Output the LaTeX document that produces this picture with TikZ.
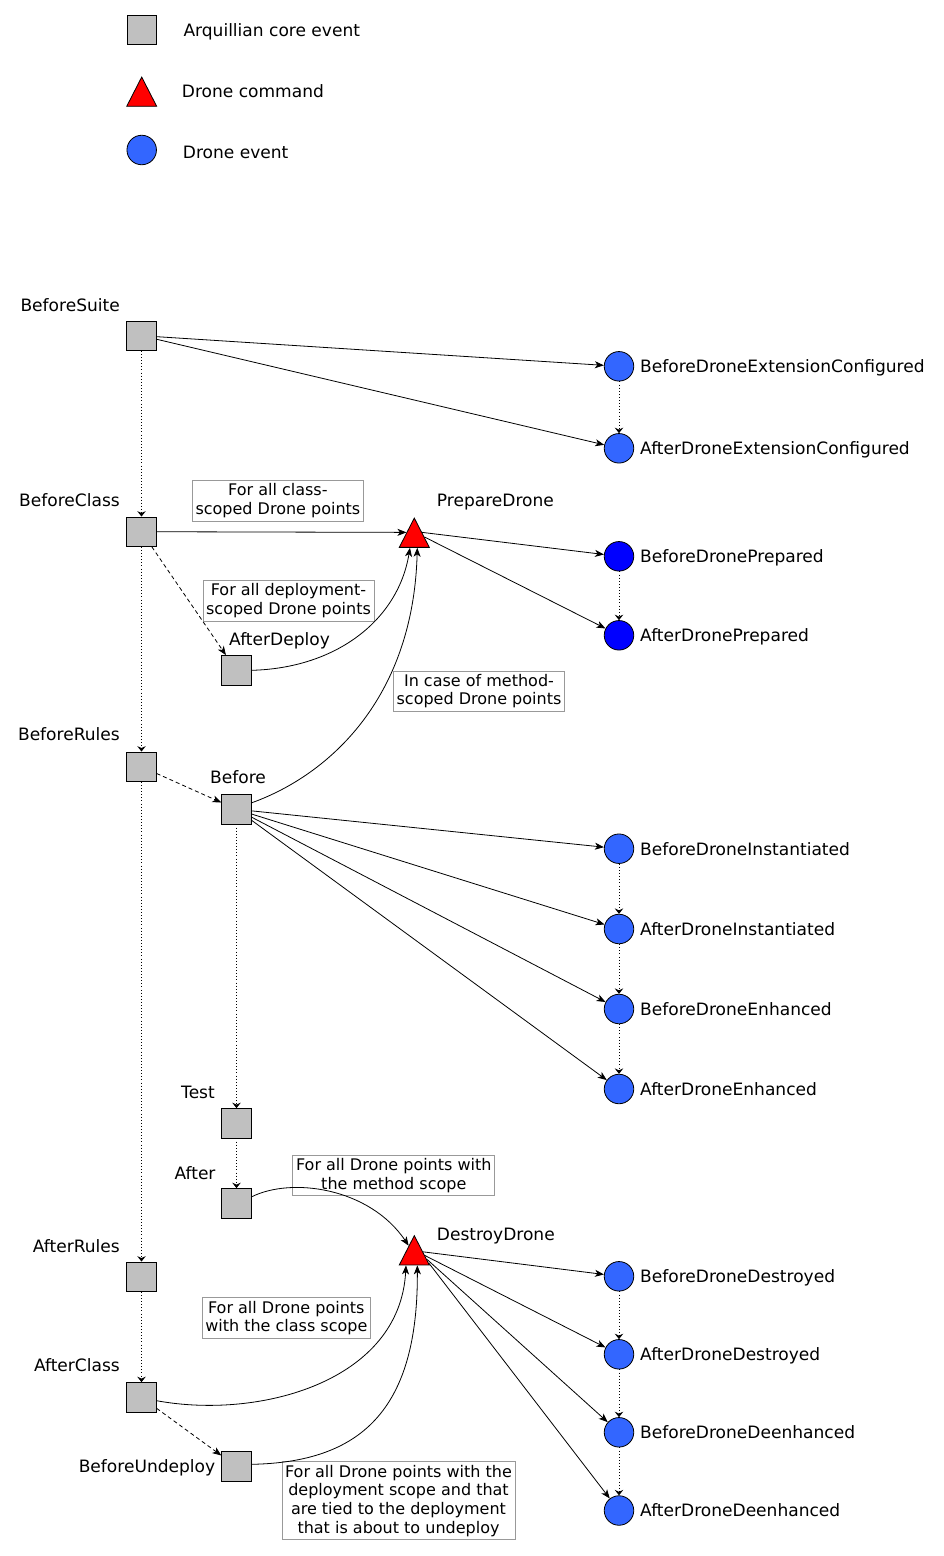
\documentclass[tikz,border=0pt]{standalone}
\usepackage{fontspec}
\setmainfont{DejaVu Sans}
\usetikzlibrary{shapes.geometric,arrows.meta,calc}
\definecolor{coregray}{HTML}{C0C0C0}
\definecolor{evblue}{HTML}{3366FF}
\definecolor{prepblue}{HTML}{0000FF}
\definecolor{notegray}{HTML}{999999}
\newcommand{\lblfont}{\fontsize{17.05}{20}\selectfont}
\newcommand{\notefont}{\fontsize{16}{18.7}\selectfont}
\begin{document}
\begin{tikzpicture}[x=1pt,y=-1pt,
  core/.style={rectangle,draw,line width=0.8pt,fill=coregray,minimum size=29.5pt,inner sep=0pt},
  ev/.style={circle,draw,line width=0.8pt,fill=evblue,minimum size=29.5pt,inner sep=0pt},
  evp/.style={ev,fill=prepblue},
  cmd/.style={isosceles triangle,isosceles triangle stretches,shape border rotate=90,
    minimum width=30pt,minimum height=29.3pt,inner sep=0pt,draw,line width=0.8pt,fill=red},
  lbl/.style={inner sep=0pt,font=\lblfont},
  note/.style={draw=notegray,line width=0.8pt,inner sep=3.2pt,align=center,font=\notefont},
  arr/.style={line width=0.8pt,-{Stealth[length=9pt,width=7pt,inset=2.5pt]}},
  dotarr/.style={line width=0.8pt,dash pattern=on 0.9pt off 2.2pt,-{Stealth[length=5.5pt,width=8.5pt,inset=2pt]}},
  dasharr/.style={line width=0.8pt,dash pattern=on 4pt off 3pt,-{Stealth[length=9pt,width=7pt,inset=2.5pt]}}
]
\fill[white] (0,0) rectangle (943,1556);
\useasboundingbox (0,0) rectangle (943,1556);

% legend
\node[core] (lsq) at (141.7,30) {};
\node[lbl,anchor=base west] (lsqt) at (183.3,36) {Arquillian core event};
\node[cmd,anchor=apex] (ltri) at (141.7,76) {};
\node[lbl,anchor=base west] (ltrit) at (181.7,97.7) {Drone command};
\node[ev] (lci) at (141.7,150) {};
\node[lbl,anchor=base west] (lcit) at (182.7,158) {Drone event};

% core events
\node[core] (bs) at (141.5,335.7) {};
\node[lbl,anchor=base east] (bst) at (120,311) {BeforeSuite};
\node[core] (bc) at (141.5,531.7) {};
\node[lbl,anchor=base east] (bct) at (120,506) {BeforeClass};
\node[core] (ad) at (236.3,670.3) {};
\node[lbl,anchor=base west] (adt) at (229,645.5) {AfterDeploy};
\node[core] (br) at (141.5,766.7) {};
\node[lbl,anchor=base east] (brt) at (120,740.7) {BeforeRules};
\node[core] (bf) at (236.5,809.3) {};
\node[lbl,anchor=base west] (bft) at (210,783.3) {Before};
\node[core] (ts) at (236.5,1123.3) {};
\node[lbl,anchor=base east] (tst) at (215,1098) {Test};
\node[core] (af) at (236.5,1203.3) {};
\node[lbl,anchor=base east] (aft) at (215.7,1179) {After};
\node[core] (ar) at (141.5,1276.7) {};
\node[lbl,anchor=base east] (art) at (120,1252) {AfterRules};
\node[core] (ac) at (141.5,1397.3) {};
\node[lbl,anchor=base east] (act) at (120,1371.7) {AfterClass};
\node[core] (bu) at (236.5,1466.5) {};
\node[lbl,anchor=base east] (but) at (215.4,1472.7) {BeforeUndeploy};

% commands
\node[cmd,anchor=apex] (pd) at (414.3,517) {};
\node[lbl,anchor=base west] (pdt) at (436.7,506) {PrepareDrone};
\node[cmd,anchor=apex] (dd) at (414.3,1234.6) {};
\node[lbl,anchor=base west] (ddt) at (436.7,1240) {DestroyDrone};

% drone events
\node[ev] (bdec) at (619,366.3) {};
\node[lbl,anchor=base west] (bdect) at (640,372.6) {BeforeDroneExtensionConfigured};
\node[ev] (adec) at (619,448.3) {};
\node[lbl,anchor=base west] (adect) at (640,454.6) {AfterDroneExtensionConfigured};
\node[evp] (bdp) at (619,556.3) {};
\node[lbl,anchor=base west] (bdpt) at (640,562.6) {BeforeDronePrepared};
\node[evp] (adp) at (619,635.3) {};
\node[lbl,anchor=base west] (adpt) at (640,641.6) {AfterDronePrepared};
\node[ev] (bdi) at (619,848.7) {};
\node[lbl,anchor=base west] (bdit) at (640,855) {BeforeDroneInstantiated};
\node[ev] (adi) at (619,929) {};
\node[lbl,anchor=base west] (adit) at (640,935.3) {AfterDroneInstantiated};
\node[ev] (bde) at (619,1009) {};
\node[lbl,anchor=base west] (bdet) at (640,1015.3) {BeforeDroneEnhanced};
\node[ev] (ade) at (619,1089) {};
\node[lbl,anchor=base west] (adet) at (640,1095.3) {AfterDroneEnhanced};
\node[ev] (bdd) at (619,1276.3) {};
\node[lbl,anchor=base west] (bddt) at (640,1282.6) {BeforeDroneDestroyed};
\node[ev] (add) at (619,1354.3) {};
\node[lbl,anchor=base west] (addt) at (640,1360.6) {AfterDroneDestroyed};
\node[ev] (bdde) at (619,1432.3) {};
\node[lbl,anchor=base west] (bddet) at (640,1438.6) {BeforeDroneDeenhanced};
\node[ev] (adde) at (619,1510.5) {};
\node[lbl,anchor=base west] (addet) at (640,1516.8) {AfterDroneDeenhanced};

% notes
\node[note] (n1) at (277.9,500.9) {For all class-\\scoped Drone points};
\node[note] (n2) at (288.5,600.8) {For all deployment-\\scoped Drone points};
\node[note] (n3) at (479,691.2) {In case of method-\\scoped Drone points};
\node[note] (n4) at (393.8,1175.5) {For all Drone points with\\the method scope};
\node[note] (n5) at (286.3,1318) {For all Drone points\\with the class scope};
\node[note] (n6) at (398.5,1500.8) {For all Drone points with the\\deployment scope and that\\are tied to the deployment\\that is about to undeploy};

% attachment points on the triangles
\coordinate (pdL) at ($(pd.apex)!0.5!(pd.left corner)$);
\coordinate (pdR1) at ($(pd.apex)!0.5!(pd.right corner)$);
\coordinate (pdR2) at ($(pd.apex)!0.65!(pd.right corner)$);
\coordinate (ddL) at ($(dd.apex)!0.36!(dd.left corner)$);
\coordinate (ddR1) at ($(dd.apex)!0.56!(dd.right corner)$);
\coordinate (ddR2) at ($(dd.apex)!0.68!(dd.right corner)$);
\coordinate (ddR3) at ($(dd.apex)!0.8!(dd.right corner)$);
\coordinate (ddR4) at ($(dd.apex)!0.92!(dd.right corner)$);

% dotted sequences
\draw[dotarr] (bs) -- (bc);
\draw[dotarr] (bc) -- (br);
\draw[dotarr] (br) -- (ar);
\draw[dotarr] (ar) -- (ac);
\draw[dotarr] (bf) -- (ts);
\draw[dotarr] (ts) -- (af);
\draw[dotarr] (bdec) -- (adec);
\draw[dotarr] (bdp) -- (adp);
\draw[dotarr] (bdi) -- (adi);
\draw[dotarr] (adi) -- (bde);
\draw[dotarr] (bde) -- (ade);
\draw[dotarr] (bdd) -- (add);
\draw[dotarr] (add) -- (bdde);
\draw[dotarr] (bdde) -- (adde);

% dashed
\draw[dasharr] (bc) -- (ad);
\draw[dasharr] (br) -- (bf);
\draw[dasharr] (ac) -- (bu);

% solid straight
\draw[arr] (bs) -- (bdec);
\draw[arr] (bs) -- (adec);
\draw[arr] (bc) -- (pdL);
\draw[arr] (pdR1) -- (bdp);
\draw[arr] (pdR2) -- (adp);
\draw[arr] (bf) -- (bdi);
\draw[arr] (bf) -- (adi);
\draw[arr] (bf) -- (bde);
\draw[arr] (bf) -- (ade);
\draw[arr] (ddR1) -- (bdd);
\draw[arr] (ddR2) -- (add);
\draw[arr] (ddR3) -- (bdde);
\draw[arr] (ddR4) -- (adde);

% curves
\draw[arr] (ad.east) .. controls +(84,-2) and +(-12,73) .. ([xshift=-4.3pt]pd.lower side);
\draw[arr] ([yshift=6.5pt]bf.east) .. controls +(78,-28) and +(-4,150) .. ([xshift=3pt]pd.lower side);
\draw[arr] ([yshift=6.5pt]af.east) .. controls +(40,-20) and +(-39,-58) .. (ddL);
\draw[arr] ([yshift=-3.4pt]ac.east) .. controls +(103,19) and +(-6,116) .. ([xshift=-8.3pt]dd.lower side);
\draw[arr] ([yshift=2.2pt]bu.east) .. controls +(108,-2) and +(1,146) .. ([xshift=3pt]dd.lower side);
\end{tikzpicture}
\end{document}
